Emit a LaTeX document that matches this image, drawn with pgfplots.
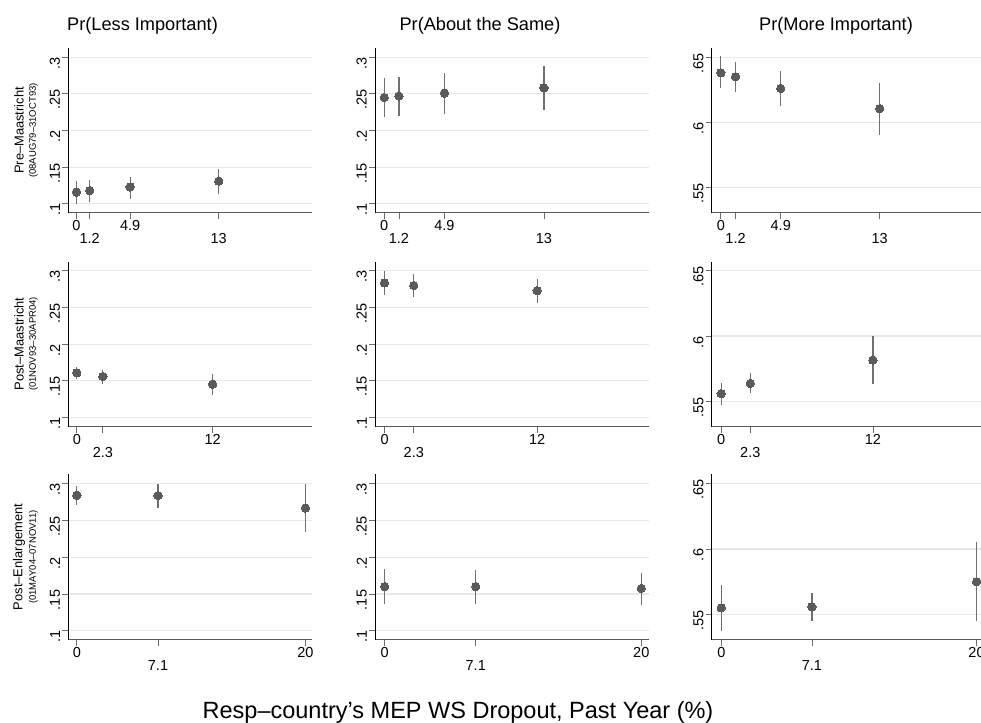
\documentclass[border=0pt]{standalone}
\usepackage{pgfplots}
\usepackage{pgfplotstable}
\pgfplotsset{compat=1.18}
\usepackage{fontspec}
\setmainfont{Liberation Sans}
\definecolor{markcol}{HTML}{5A5A5A}
\definecolor{barcol}{HTML}{707070}
\definecolor{gridcol}{HTML}{E8E8E8}

\pgfplotstableread{
x y hi lo
0 0.116 0.131 0.100
1.2 0.118 0.133 0.102
4.9 0.123 0.137 0.107
13 0.131 0.1475 0.114
}\Paa
\pgfplotstableread{
x y hi lo
0 0.245 0.271 0.219
1.2 0.247 0.273 0.220
4.9 0.251 0.279 0.223
13 0.258 0.288 0.228
}\Pab
\pgfplotstableread{
x y hi lo
0 0.638 0.6505 0.626
1.2 0.635 0.646 0.623
4.9 0.626 0.639 0.6125
13 0.6105 0.6305 0.590
}\Pac
\pgfplotstableread{
x y hi lo
0 0.161 0.169 0.152
2.3 0.156 0.1645 0.146
12 0.1455 0.1595 0.131
}\Pba
\pgfplotstableread{
x y hi lo
0 0.2835 0.300 0.267
2.3 0.280 0.296 0.265
12 0.273 0.2895 0.2565
}\Pbb
\pgfplotstableread{
x y hi lo
0 0.5558 0.5642 0.5472
2.3 0.5637 0.5713 0.5566
12 0.5816 0.6004 0.5629
}\Pbc
\pgfplotstableread{
x y hi lo
0 0.284 0.297 0.271
7.1 0.2836 0.300 0.2667
20 0.2667 0.300 0.234
}\Pca
\pgfplotstableread{
x y hi lo
0 0.160 0.184 0.136
7.1 0.160 0.183 0.137
20 0.1575 0.179 0.1345
}\Pcb
\pgfplotstableread{
x y hi lo
0 0.555 0.5727 0.5373
7.1 0.5558 0.5662 0.5452
20 0.575 0.605 0.5447
}\Pcc

\pgfplotsset{
 panel/.style={scale only axis, anchor=south west,
  axis x line*=bottom, axis y line*=left,
  xmin=-0.75, tick align=outside, major tick length=6pt,
  every tick/.style={draw=gray!85!black, line width=0.8pt},
  ymajorgrids, major grid style={draw=gridcol, line width=1.2pt},
  x axis line style={draw=gray!70!black, line width=1pt, -},
  y axis line style={draw=black, line width=1pt, -},
  tick label style={font=\fontsize{14.5}{16}\selectfont},
  yticklabel style={rotate=90, anchor=south, inner sep=2pt, xshift=-6pt},
  xticklabel style={anchor=north, inner sep=1pt},
  extra x tick style={grid=none, xticklabel style={yshift=-13pt}},
  /pgf/number format/assume math mode=true,
  clip=false,
 },
 lowy/.style={ymin=0.0875, ymax=0.3125, ytick={0.1,0.15,0.2,0.25,0.3}, yticklabels={.1,.15,.2,.25,.3}},
 highy/.style={ymin=0.5305, ymax=0.657, ytick={0.55,0.6,0.65}, yticklabels={.55,.6,.65}},
 ca/.style={width=244pt},
 cb/.style={width=274pt},
 cc/.style={width=272.5pt},
 ra/.style={height=165pt, xmax=21.55, xtick={0,4.9}, xticklabels={0,4.9}, extra x ticks={1.2,13}, extra x tick labels={1.2,13}},
 rb/.style={height=165pt, xmax=20.8, xtick={0,12}, xticklabels={0,12}, extra x ticks={2.3}, extra x tick labels={2.3}},
 rc/.style={height=165.7pt, xmax=20.6, xtick={0,20}, xticklabels={0,20}, extra x ticks={7.1}, extra x tick labels={7.1}},
 bars/.style={only marks, mark=none,
  error bars/.cd, y dir=both, y explicit, error mark=none,
  error bar style={draw=barcol, line width=1.2pt}},
 dots/.style={only marks, mark=*, mark size=4.2pt,
  mark options={fill=markcol, draw=markcol, line width=0pt}},
}
\newcommand{\plotit}[1]{%
\addplot[bars] table[x=x, y=y, y error plus expr=\thisrow{hi}-\thisrow{y}, y error minus expr=\thisrow{y}-\thisrow{lo}] {#1};
\addplot[dots] table[x=x, y=y] {#1};}

\begin{document}
\begin{tikzpicture}
\useasboundingbox (0pt,0pt) rectangle (981pt,722pt);
% row 1
\begin{axis}[panel, ca, ra, lowy, at={(68.3pt,509pt)}]
\plotit{\Paa}
\end{axis}
\begin{axis}[panel, cb, ra, lowy, at={(375pt,509pt)}]
\plotit{\Pab}
\end{axis}
\begin{axis}[panel, cc, ra, highy, at={(711.7pt,509pt)}]
\plotit{\Pac}
\end{axis}
% row 2
\begin{axis}[panel, ca, rb, lowy, at={(68.3pt,295.3pt)}]
\plotit{\Pba}
\end{axis}
\begin{axis}[panel, cb, rb, lowy, at={(375pt,295.3pt)}]
\plotit{\Pbb}
\end{axis}
\begin{axis}[panel, cc, rb, highy, at={(711.7pt,295.3pt)}]
\plotit{\Pbc}
\end{axis}
% row 3
\begin{axis}[panel, ca, rc, lowy, at={(68.3pt,82pt)}]
\plotit{\Pca}
\end{axis}
\begin{axis}[panel, cb, rc, lowy, at={(375pt,82pt)}]
\plotit{\Pcb}
\end{axis}
\begin{axis}[panel, cc, rc, highy, at={(711.7pt,82pt)}]
\plotit{\Pcc}
\end{axis}
% column titles
\node[anchor=base, font=\fontsize{18.2}{20}\selectfont] at (142.5pt,691.7pt) {Pr(Less Important)};
\node[anchor=base, font=\fontsize{18.2}{20}\selectfont] at (480pt,691.7pt) {Pr(About the Same)};
\node[anchor=base, font=\fontsize{18.2}{20}\selectfont] at (836pt,691.7pt) {Pr(More Important)};
% row labels
\node[rotate=90, font=\fontsize{12.9}{14}\selectfont] at (19pt,591.5pt) {Pre--Maastricht};
\node[rotate=90, font=\fontsize{9.5}{11}\selectfont] at (33.5pt,591.5pt) {(08AUG79--31OCT93)};
\node[rotate=90, font=\fontsize{12.9}{14}\selectfont] at (19pt,378pt) {Post--Maastricht};
\node[rotate=90, font=\fontsize{9.5}{11}\selectfont] at (33.5pt,378pt) {(01NOV93--30APR04)};
\node[rotate=90, font=\fontsize{12.9}{14}\selectfont] at (19pt,165pt) {Post--Enlargement};
\node[rotate=90, font=\fontsize{9.5}{11}\selectfont] at (33.5pt,165pt) {(01MAY04--07NOV11)};
% bottom title
\node[anchor=base, font=\fontsize{23.5}{26}\selectfont] at (458pt,3.5pt) {Resp--country's MEP WS Dropout, Past Year (\%)};
\end{tikzpicture}
\end{document}
